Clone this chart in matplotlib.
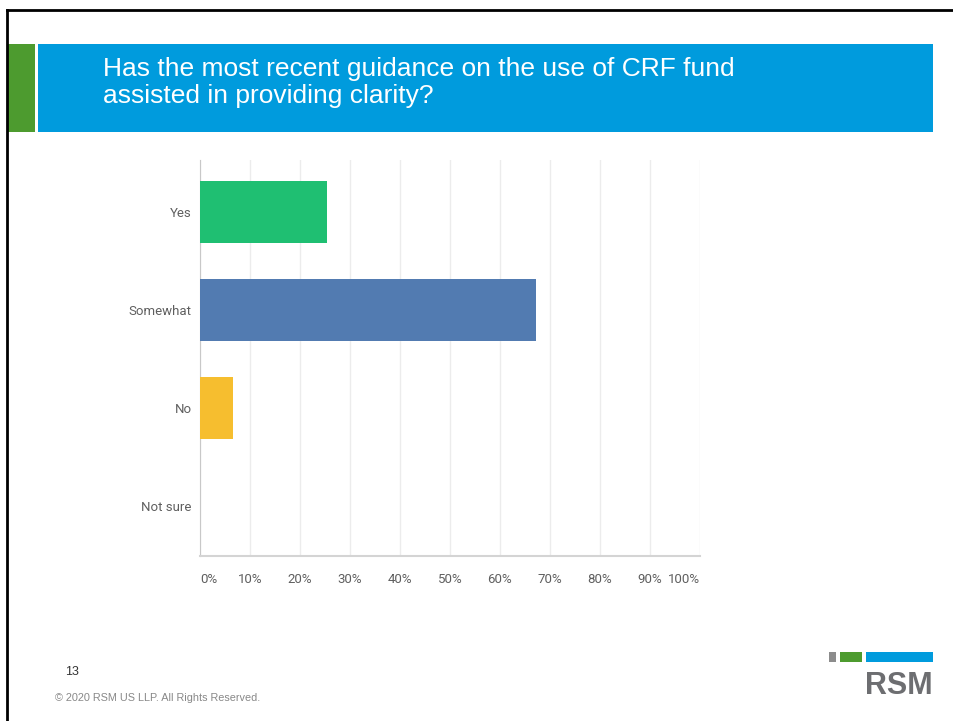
import matplotlib.pyplot as plt
from matplotlib.patches import Rectangle

# survey answers, percent of respondents
answers = ["Yes", "Somewhat", "No", "Not sure"]
shares = [25.4, 67.3, 6.7, 0.0]
bar_colors = ["#1fbf72", "#527bb1", "#f6be2f", "#9b9b9b"]
tick_values = [0, 10, 20, 30, 40, 50, 60, 70, 80, 90, 100]
tick_labels = ["0%", "10%", "20%", "30%", "40%", "50%", "60%", "70%", "80%", "90%", "100%"]

title = "Has the most recent guidance on the use of CRF fund\nassisted in providing clarity?"

W, H = 954, 721
fig = plt.figure(figsize=(W / 100, H / 100), dpi=100)
fig.patch.set_facecolor("white")


def px(x0, y0, x1, y1):
    # pixel box (top-left origin) -> figure fraction rect
    return (x0 / W, 1 - y1 / H), (x1 - x0) / W, (y1 - y0) / H


def box(x0, y0, x1, y1, color, **kw):
    xy, w, h = px(x0, y0, x1, y1)
    fig.patches.append(Rectangle(xy, w, h, transform=fig.transFigure,
                                 facecolor=color, edgecolor="none", **kw))


# slide frame
fig.add_artist(plt.Line2D([7 / W, 1], [1 - 10 / H, 1 - 10 / H], color="black", lw=2,
                          transform=fig.transFigure))
fig.add_artist(plt.Line2D([7 / W, 7 / W], [0, 1 - 10 / H], color="black", lw=2,
                          transform=fig.transFigure))

# title banner
box(8, 44, 35, 132, "#4d9b2f")
box(38, 44, 933, 132, "#009bdd")
fig.text(103 / W, 1 - 57 / H, title, color="white", fontsize=19,
         family="Liberation Sans", va="top", ha="left", linespacing=1.15)

# chart
ax = fig.add_axes([200 / W, 1 - 556 / H, 500 / W, 396 / H])
ypos = list(range(len(answers)))
ax.barh(ypos, shares, height=0.63, color=bar_colors, zorder=3)
ax.set_xlim(0, 100)
ax.set_ylim(3.51, -0.53)
ax.set_yticks(ypos)
ax.set_yticklabels(answers)
ax.set_xticks(tick_values)
ax.set_xticklabels(tick_labels)
ax.tick_params(length=0, labelsize=9.5, labelcolor="#5f5f5f", pad=6)
ax.tick_params(axis="x", pad=12)
for lab in ax.get_xticklabels() + ax.get_yticklabels():
    lab.set_family("Roboto")
xlabs = ax.get_xticklabels()
xlabs[0].set_horizontalalignment("left")
xlabs[-1].set_horizontalalignment("right")
ax.grid(axis="x", color="#ececec", lw=1, zorder=0)
for side in ["top", "right"]:
    ax.spines[side].set_visible(False)
ax.spines["left"].set_color("#c8c8c8")
ax.spines["bottom"].set_color("#d4d4d4")
ax.spines["bottom"].set_linewidth(1.5)

# footer
fig.text(65 / W, 1 - 672 / H, "13", fontsize=9, color="#333333",
         family="Liberation Sans", va="center")
fig.text(55 / W, 1 - 698 / H, "\u00a9 2020 RSM US LLP. All Rights Reserved.", fontsize=7.8,
         color="#888888", family="Liberation Sans", va="center")

# logo
box(829, 652, 836, 662, "#8c8c8c")
box(840, 652, 862, 662, "#4d9b2f")
box(866, 652, 933, 662, "#009bdd")
fig.text(933 / W, 1 - 686 / H, "RSM", fontsize=22, fontweight="bold", color="#6d6e71",
         family="Liberation Sans", ha="right", va="center")

fig.savefig("out.png", dpi=100)
